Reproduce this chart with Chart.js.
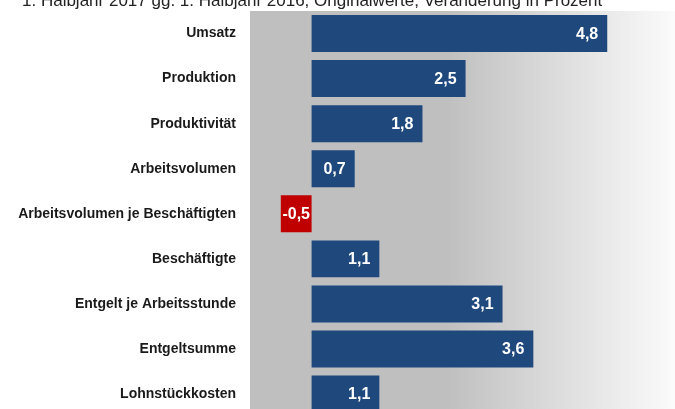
<!DOCTYPE html>
<html>
<head>
<meta charset="utf-8">
<script src="https://cdn.jsdelivr.net/npm/chart.js@4"></script>
<style>
  body { margin: 0; overflow: hidden; background: #fff; }
  #wrap { position: absolute; left: 0; top: 0; width: 675px; height: 425px; }
</style>
</head>
<body>
<div id="wrap"><canvas id="chart" width="675" height="425"></canvas></div>
<script>
// 1. Halbjahr 2017 gg. 1. Halbjahr 2016
const categories = [
  "Umsatz",
  "Produktion",
  "Produktivität",
  "Arbeitsvolumen",
  "Arbeitsvolumen je Beschäftigten",
  "Beschäftigte",
  "Entgelt je Arbeitsstunde",
  "Entgeltsumme",
  "Lohnstückkosten"
];
const values = [4.8, 2.5, 1.8, 0.7, -0.5, 1.1, 3.1, 3.6, 1.1];
const subtitle = "1. Halbjahr 2017 gg. 1. Halbjahr 2016, Originalwerte, Veränderung in Prozent";

const blue = "#1f497d";
const red = "#c00000";

// gray background behind the plot, fading to white on the right
const backdrop = {
  id: "backdrop",
  beforeDraw(chart) {
    const { ctx, chartArea: a } = chart;
    const g = ctx.createLinearGradient(a.left, 0, a.right, 0);
    g.addColorStop(0, "#bfbfbf");
    g.addColorStop(0.46, "#bfbfbf");
    g.addColorStop(1, "#fbfbfb");
    ctx.save();
    ctx.fillStyle = g;
    ctx.fillRect(a.left, a.top, a.right - a.left, a.bottom - a.top);
    ctx.fillStyle = "#222";
    ctx.font = "17px 'Liberation Sans', Arial, sans-serif";
    ctx.textBaseline = "alphabetic";
    ctx.fillText(subtitle, 22, 6);
    ctx.restore();
  }
};

// white numbers inside the bars
const valueLabels = {
  id: "valueLabels",
  afterDatasetsDraw(chart) {
    const { ctx } = chart;
    const meta = chart.getDatasetMeta(0);
    ctx.save();
    ctx.fillStyle = "#fff";
    ctx.font = "bold 16px 'Liberation Sans', Arial, sans-serif";
    ctx.textBaseline = "middle";
    meta.data.forEach((bar, i) => {
      const txt = values[i].toFixed(1).replace(".", ",");
      if (values[i] >= 0) {
        ctx.textAlign = "right";
        ctx.fillText(txt, bar.x - 9, bar.y + 1);
      } else {
        ctx.textAlign = "center";
        ctx.fillText(txt, (bar.x + bar.base) / 2, bar.y + 1);
      }
    });
    ctx.restore();
  }
};

new Chart(document.getElementById("chart"), {
  type: "bar",
  data: {
    labels: categories,
    datasets: [{
      data: values,
      backgroundColor: values.map(v => v < 0 ? red : blue),
      barPercentage: 0.82,
      categoryPercentage: 1
    }]
  },
  options: {
    indexAxis: "y",
    responsive: false,
    animation: false,
    layout: { padding: { top: 11, right: 0, bottom: 7, left: 0 } },
    plugins: {
      legend: { display: false },
      tooltip: { enabled: false }
    },
    scales: {
      x: {
        display: false,
        min: -1,
        max: 5.9
      },
      y: {
        // invisible tick marks push the labels off the plot without extra top/bottom padding
        grid: { display: true, drawOnChartArea: false, drawTicks: true, tickLength: 14, color: "rgba(0,0,0,0)" },
        border: { display: false },
        afterFit(scale) { scale.width = 250; },
        ticks: {
          padding: 0,
          color: "#1a1a1a",
          font: { family: "'Liberation Sans', Arial, sans-serif", size: 14, weight: "bold" }
        }
      }
    }
  },
  plugins: [backdrop, valueLabels]
});
</script>
</body>
</html>
